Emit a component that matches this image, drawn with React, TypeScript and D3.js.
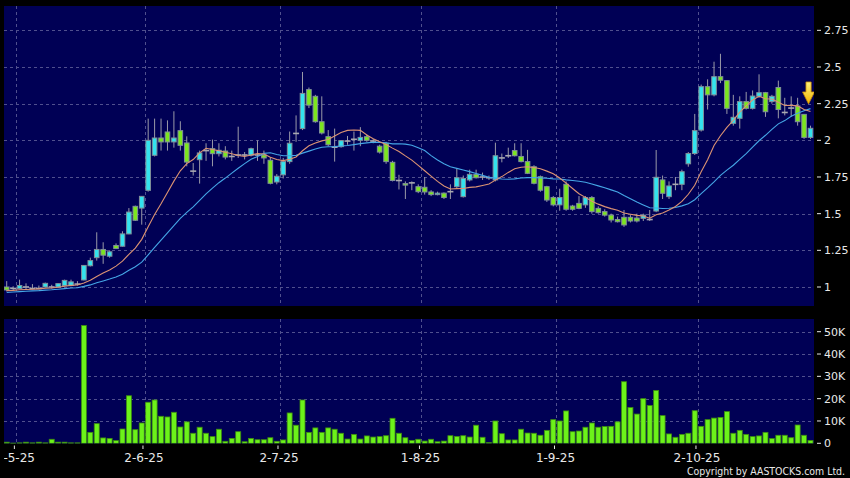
import React from 'react';
import * as d3 from 'd3';

// ---------- data ----------
const tickLabels = ['2-5-25', '2-6-25', '2-7-25', '1-8-25', '1-9-25', '2-10-25'];
const tickIndex = [2, 22, 43, 65, 86, 108];

const priceTicks = [1, 1.25, 1.5, 1.75, 2, 2.25, 2.5, 2.75];
const priceTickLabels = ['1', '1.25', '1.5', '1.75', '2', '2.25', '2.5', '2.75'];

const volTicks = [0, 10000, 20000, 30000, 40000, 50000];
const volTickLabels = ['0', '10K', '20K', '30K', '40K', '50K'];

// closes of the 19 sessions before the first visible bar (for the moving averages)
const priorCloses = [0.94, 0.95, 0.95, 0.94, 0.95, 0.96, 0.95, 0.95, 0.96, 0.96, 0.97, 0.97, 0.98, 0.97, 0.97, 0.98, 0.98, 0.97, 0.98];

const opens = [
  1.00, 0.99, 0.99, 1.00, 0.99, 0.99, 1.00, 1.00, 1.00, 1.01,
  1.01, 1.02, 1.048, 1.145, 1.20, 1.256, 1.21, 1.283, 1.278, 1.362,
  1.55, 1.538, 1.659, 1.898, 2.016, 2.057, 1.989, 2.066, 1.982, 1.79,
  1.868, 1.93, 1.943, 1.909, 1.927, 1.89, 1.90, 1.90, 1.898, 1.90,
  1.90, 1.864, 1.716, 1.765, 1.855, 2.047, 2.08, 2.346, 2.30, 2.127,
  2.025, 1.953, 1.957, 1.995, 2.007, 2.00, 2.025, 1.995, 1.96, 1.98,
  1.85, 1.726, 1.705, 1.71, 1.684, 1.68, 1.648, 1.635, 1.64, 1.65,
  1.684, 1.616, 1.73, 1.768, 1.75, 1.745, 1.73, 1.88, 1.895, 1.93,
  1.89, 1.855, 1.82, 1.752, 1.684, 1.61, 1.56, 1.70, 1.552, 1.57,
  1.56, 1.61, 1.536, 1.514, 1.49, 1.46, 1.475, 1.475, 1.47, 1.468,
  1.46, 1.518, 1.73, 1.616, 1.70, 1.70, 1.84, 1.91, 2.07, 2.366,
  2.31, 2.434, 2.407, 2.116, 2.15, 2.264, 2.218, 2.30, 2.325, 2.264,
  2.36, 2.19, 2.22, 2.234, 2.177, 2.02,
];
const highs = [
  1.04, 1.005, 1.05, 1.025, 1.02, 1.01, 1.03, 1.015, 1.025, 1.05,
  1.05, 1.04, 1.15, 1.20, 1.373, 1.305, 1.25, 1.297, 1.38, 1.538,
  1.555, 1.62, 2.148, 2.148, 2.148, 2.136, 2.198, 2.13, 2.027, 1.845,
  1.93, 1.98, 2.005, 1.98, 1.96, 1.93, 2.093, 1.92, 1.95, 2.00,
  1.93, 1.885, 1.77, 1.88, 2.06, 2.17, 2.466, 2.36, 2.31, 2.30,
  2.07, 2.08, 2.00, 2.03, 2.06, 2.09, 2.04, 2.01, 1.97, 1.99,
  1.86, 1.765, 1.72, 1.72, 1.70, 1.75, 1.66, 1.65, 1.645, 1.70,
  1.81, 1.76, 1.80, 1.80, 1.78, 1.76, 1.984, 1.91, 1.95, 1.98,
  1.98, 1.935, 1.83, 1.76, 1.69, 1.62, 1.67, 1.72, 1.56, 1.62,
  1.62, 1.62, 1.55, 1.53, 1.50, 1.48, 1.525, 1.49, 1.50, 1.50,
  1.525, 1.934, 1.76, 1.72, 1.75, 1.80, 1.92, 2.18, 2.38, 2.416,
  2.536, 2.59, 2.41, 2.31, 2.30, 2.33, 2.34, 2.45, 2.33, 2.31,
  2.407, 2.29, 2.30, 2.29, 2.18, 2.10,
];
const lows = [
  0.97, 0.98, 0.985, 0.985, 0.985, 0.985, 0.995, 0.99, 1.00, 1.005,
  1.005, 1.01, 1.045, 1.14, 1.18, 1.158, 1.20, 1.26, 1.275, 1.36,
  1.45, 1.425, 1.65, 1.89, 1.93, 1.93, 1.95, 1.93, 1.823, 1.76,
  1.705, 1.86, 1.823, 1.89, 1.87, 1.86, 1.88, 1.87, 1.89, 1.86,
  1.84, 1.70, 1.70, 1.74, 1.84, 1.99, 2.07, 2.22, 2.12, 2.04,
  1.96, 1.855, 1.95, 1.97, 1.93, 1.96, 1.99, 1.98, 1.91, 1.84,
  1.72, 1.665, 1.60, 1.66, 1.64, 1.63, 1.62, 1.625, 1.60, 1.60,
  1.67, 1.61, 1.72, 1.74, 1.73, 1.73, 1.72, 1.85, 1.88, 1.89,
  1.85, 1.77, 1.70, 1.65, 1.58, 1.55, 1.52, 1.52, 1.52, 1.53,
  1.54, 1.50, 1.50, 1.48, 1.44, 1.44, 1.41, 1.44, 1.44, 1.45,
  1.45, 1.51, 1.60, 1.60, 1.66, 1.66, 1.82, 1.90, 2.06, 2.21,
  2.30, 2.39, 2.18, 2.10, 2.08, 2.21, 2.21, 2.29, 2.16, 2.25,
  2.15, 2.17, 2.16, 2.10, 2.01, 2.01,
];
const closes = [
  0.98, 0.99, 1.01, 1.00, 0.99, 0.99, 1.025, 1.00, 1.023, 1.045,
  1.035, 1.02, 1.147, 1.18, 1.256, 1.217, 1.24, 1.262, 1.362, 1.511,
  1.455, 1.618, 2.00, 2.016, 1.989, 1.989, 2.016, 1.966, 1.852, 1.79,
  1.914, 1.93, 1.909, 1.932, 1.886, 1.89, 1.90, 1.90, 1.943, 1.90,
  1.88, 1.707, 1.755, 1.855, 1.98, 2.047, 2.32, 2.24, 2.127, 2.05,
  1.97, 1.953, 1.998, 1.995, 2.007, 2.02, 2.00, 1.995, 1.92, 1.855,
  1.726, 1.726, 1.695, 1.71, 1.65, 1.648, 1.63, 1.64, 1.61, 1.65,
  1.745, 1.74, 1.768, 1.745, 1.75, 1.745, 1.895, 1.88, 1.895, 1.895,
  1.855, 1.775, 1.707, 1.66, 1.593, 1.56, 1.61, 1.53, 1.53, 1.536,
  1.61, 1.514, 1.507, 1.49, 1.457, 1.445, 1.423, 1.45, 1.45, 1.49,
  1.46, 1.748, 1.639, 1.689, 1.70, 1.786, 1.91, 2.066, 2.366, 2.31,
  2.434, 2.41, 2.218, 2.157, 2.264, 2.218, 2.302, 2.325, 2.195, 2.30,
  2.21, 2.19, 2.22, 2.127, 2.02, 2.082,
];
const volumes = [
  500, 100, 200, 500, 200, 500, 200, 1800, 500, 500,
  200, 200, 52800, 4900, 8800, 2400, 2200, 1200, 6400, 21300,
  6100, 9100, 18400, 19400, 12100, 11800, 13900, 7300, 9600, 4500,
  7200, 4500, 3000, 6300, 900, 2200, 5200, 700, 2200, 1600,
  1600, 2500, 900, 1500, 13600, 8100, 19400, 4900, 6900, 4900,
  6900, 6300, 4500, 1900, 4000, 1900, 3300, 2800, 3000, 3400,
  11200, 4500, 2500, 1300, 1800, 1000, 1800, 700, 1000, 3400,
  3100, 3400, 2800, 8100, 2700, 300, 10000, 4300, 1500, 1500,
  6300, 4600, 4500, 3600, 5800, 10600, 10000, 14500, 5200, 5500,
  7200, 9100, 7200, 7500, 7600, 9600, 27600, 16000, 13100, 20000,
  16900, 23700, 12400, 4200, 2700, 4000, 4500, 14600, 7600, 10600,
  11300, 11600, 14200, 4500, 5800, 4000, 3000, 3300, 4900, 2100,
  3600, 3600, 2500, 8200, 3600, 1300,
];

const maShort = 10;
const maLong = 20;
const signalIndex = 124.7;
const signalPrice = 2.248;

// ---------- styles ----------
const W = 850;
const H = 478;
const main = { left: 4, right: 814, top: 6, bottom: 306 };
const vol = { left: 4, right: 814, top: 319, bottom: 443.5 };
const navy = '#000055';
const gridColor = '#50508e';
const upFill = '#33E3EE';
const downFill = '#7CE61E';
const bodyStroke = '#7f8f99';
const wickColor = '#9a9aa8';
const volFill = '#6CF21A';
const volStroke = '#3d8c10';
const textColor = '#E8E8E8';
const font = 'DejaVu Sans, Verdana, sans-serif';

function movingAverage(n: number): number[] {
  const all = priorCloses.concat(closes);
  const off = priorCloses.length;
  return closes.map((_, i) => {
    const end = i + off;
    const start = Math.max(0, end - n + 1);
    return d3.mean(all.slice(start, end + 1)) as number;
  });
}

export default function App() {
  const n = closes.length;
  const x = d3.scaleLinear().domain([-0.5, n - 0.5]).range([3.5, 813.7]);
  const yP = d3.scaleLinear().domain([1, 2.75]).range([287, 30.33]);
  const yV = d3.scaleLinear().domain([0, 50000]).range([443.3, 331.7]);

  const ma10 = movingAverage(maShort);
  const ma20 = movingAverage(maLong);
  const line = d3
    .line<number>()
    .x((_, i) => x(i))
    .y((v) => yP(v));

  const bodyW = 4.6;
  const volW = 5.0;

  const boundaries = tickIndex.map((i) => x(i - 0.5));

  const ax = x(signalIndex);
  const tipY = yP(signalPrice);
  const arrowPath = `M${ax - 2.6},${tipY - 22} L${ax + 2.6},${tipY - 22} L${ax + 2.6},${tipY - 12} L${ax + 6},${tipY - 12} L${ax},${tipY} L${ax - 6},${tipY - 12} L${ax - 2.6},${tipY - 12} Z`;

  return (
    <svg
      width={W}
      height={H}
      style={{ position: 'absolute', left: 0, top: 0, background: '#000' }}
      fontFamily={font}
    >
      <defs>
        <clipPath id="clipMain">
          <rect x={main.left} y={main.top} width={main.right - main.left} height={main.bottom - main.top} />
        </clipPath>
        <clipPath id="clipVol">
          <rect x={vol.left} y={vol.top} width={vol.right - vol.left} height={vol.bottom - vol.top} />
        </clipPath>
        <clipPath id="clipDates">
          <rect x={4} y={440} width={846} height={38} />
        </clipPath>
        <linearGradient id="arrowGrad" x1="0" y1="0" x2="0" y2="1">
          <stop offset="0" stopColor="#FFF27A" />
          <stop offset="1" stopColor="#F2B400" />
        </linearGradient>
      </defs>
      <rect x={0} y={0} width={W} height={H} fill="#000" />

      {/* main panel */}
      <rect x={main.left} y={main.top} width={main.right - main.left} height={main.bottom - main.top} fill={navy} />
      <g clipPath="url(#clipMain)">
        {priceTicks.map((p) => (
          <line key={'hp' + p} x1={main.left} x2={main.right} y1={Math.round(yP(p)) + 0.5} y2={Math.round(yP(p)) + 0.5} stroke={gridColor} strokeDasharray="3,3" />
        ))}
        {boundaries.map((bx, k) => (
          <line key={'vp' + k} x1={Math.round(bx) + 0.5} x2={Math.round(bx) + 0.5} y1={main.top} y2={main.bottom} stroke={gridColor} strokeDasharray="3,3" />
        ))}
        {closes.map((c, i) => {
          const o = opens[i];
          const cx = x(i);
          const up = c > o;
          const down = c < o;
          const top = yP(Math.max(o, c));
          const bot = yP(Math.min(o, c));
          return (
            <g key={'c' + i}>
              <line x1={cx} x2={cx} y1={yP(highs[i])} y2={yP(lows[i])} stroke={wickColor} strokeWidth={1} />
              {up || down ? (
                <rect
                  x={cx - bodyW / 2}
                  y={top}
                  width={bodyW}
                  height={Math.max(bot - top, 1.5)}
                  fill={up ? upFill : downFill}
                  stroke={bodyStroke}
                  strokeWidth={1}
                />
              ) : (
                <line x1={cx - 3} x2={cx + 3} y1={top} y2={top} stroke="#a8a8b0" strokeWidth={1.6} />
              )}
            </g>
          );
        })}
        <path d={line(ma20) || ''} fill="none" stroke="#45A6E6" strokeWidth={1.1} />
        <path d={line(ma10) || ''} fill="none" stroke="#DC9373" strokeWidth={1.1} />
        <path d={arrowPath} fill="url(#arrowGrad)" stroke="#C98A00" strokeWidth={0.8} />
      </g>

      {/* price axis */}
      {priceTicks.map((p, k) => (
        <g key={'pt' + p}>
          <line x1={817} x2={821} y1={yP(p)} y2={yP(p)} stroke={textColor} />
          <text x={824} y={yP(p)} dy="0.36em" fill={textColor} fontSize={11}>
            {priceTickLabels[k]}
          </text>
        </g>
      ))}

      {/* volume panel */}
      <rect x={vol.left} y={vol.top} width={vol.right - vol.left} height={vol.bottom - vol.top} fill={navy} />
      <g clipPath="url(#clipVol)">
        {volTicks.slice(1).map((v) => (
          <line key={'hv' + v} x1={vol.left} x2={vol.right} y1={Math.round(yV(v)) + 0.5} y2={Math.round(yV(v)) + 0.5} stroke={gridColor} strokeDasharray="3,3" />
        ))}
        {boundaries.map((bx, k) => (
          <line key={'vv' + k} x1={Math.round(bx) + 0.5} x2={Math.round(bx) + 0.5} y1={vol.top} y2={vol.bottom} stroke={gridColor} strokeDasharray="3,3" />
        ))}
        {volumes.map((v, i) => (
          <rect
            key={'v' + i}
            x={x(i) - volW / 2}
            y={yV(v)}
            width={volW}
            height={Math.max(yV(0) - yV(v), 0.5)}
            fill={volFill}
            stroke={volStroke}
            strokeWidth={0.8}
          />
        ))}
      </g>

      {/* volume axis */}
      {volTicks.map((v, k) => (
        <g key={'vt' + v}>
          <line x1={817} x2={821} y1={yV(v)} y2={yV(v)} stroke={textColor} />
          <text x={824} y={yV(v)} dy="0.36em" fill={textColor} fontSize={11}>
            {volTickLabels[k]}
          </text>
        </g>
      ))}

      {/* date axis */}
      <g clipPath="url(#clipDates)">
        {boundaries.map((bx, k) => (
          <g key={'xt' + k}>
            <line x1={bx - 2} x2={bx - 2} y1={445.5} y2={449} stroke={textColor} />
            <text x={bx - 1} y={462} textAnchor="middle" fill={textColor} fontSize={12}>
              {tickLabels[k]}
            </text>
          </g>
        ))}
      </g>

      <text x={845} y={475} textAnchor="end" fill={textColor} fontSize={11} textLength={158} lengthAdjust="spacingAndGlyphs">
        Copyright by AASTOCKS.com Ltd.
      </text>
    </svg>
  );
}
